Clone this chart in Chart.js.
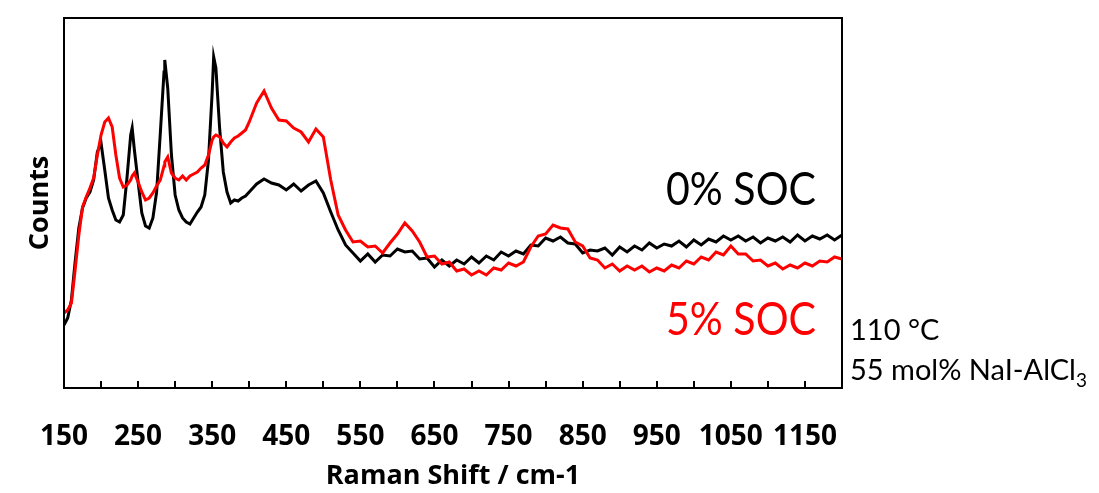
<!DOCTYPE html>
<html>
<head>
<meta charset="utf-8">
<script src="https://cdn.jsdelivr.net/npm/chart.js@4"></script>
<style>
  html, body { margin: 0; padding: 0; background: #fff; }
  #wrap { width: 1099px; height: 493px; position: relative; }
</style>
</head>
<body>
<div id="wrap"><canvas id="ramanChart"></canvas></div>
<script>
// Raman shift (cm-1) sample positions, shared by both spectra
const ramanShift = [150,155,160,165,170,175,180,185,190,195,200,205,210,215,220,225,230,235,240,242,245,250,255,260,265,270,275,280,285,286,290,295,300,305,310,315,320,325,330,335,340,345,350,352,355,360,365,370,375,380,385,390,395,400,
  410,420,430,440,450,460,470,480,490,500,510,520,530,540,550,560,570,580,590,600,610,620,630,640,650,660,670,680,690,700,
  710,720,730,740,750,760,770,780,790,800,810,820,830,840,850,860,870,880,890,900,910,920,930,940,950,960,970,980,990,1000,
  1010,1020,1030,1040,1050,1060,1070,1080,1090,1100,1110,1120,1130,1140,1150,1160,1170,1180,1190,1200];

// 0% SOC (black)
const counts0 = [63,70,88,126,160,180,190,196,208,236,245,218,190,178,168,166,173,210,253,260,238,206,175,162,160,170,196,255,316,328,300,233,193,178,170,166,164,170,176,181,193,228,296,331,320,260,216,196,185,188,187,190,192,196,
  204,209,205,203,198,204,197,203,207,195,176,158,143,135,127,134,126,133,132,139,136,137,129,130,121,128,122,128,124,131,
  125,132,128,136,132,137,134,143,142,150,147,151,145,144,135,138,137,140,133,141,136,142,138,145,140,144,142,147,141,148,
  143,149,146,152,148,152,147,151,145,150,147,151,146,153,147,152,149,153,148,153];

// 5% SOC (red)
const counts5 = [75,78,85,118,153,181,191,200,210,233,253,266,270,261,233,210,201,203,208,212,215,206,196,188,190,195,202,208,222,226,231,215,210,208,212,208,212,214,216,220,223,233,248,251,253,251,245,241,246,250,252,255,258,266,
  285,297,280,268,267,260,256,246,259,251,208,173,158,146,147,141,142,135,145,154,165,157,146,131,132,124,126,117,119,113,
  117,113,120,118,125,122,126,141,152,154,163,160,159,146,142,130,128,120,124,117,122,118,122,116,120,117,123,120,127,124,
  131,128,136,133,142,134,134,127,128,122,125,119,123,120,125,122,127,126,131,129];

const xTickLabels = [150,250,350,450,550,650,750,850,950,1050,1150];
const tickMarks = [200,250,300,350,400,450,500,550,600,650,700,750,800,850,900,950,1000,1050,1100,1150];

const toPoints = arr => ramanShift.map((x, i) => ({ x: x, y: arr[i] }));

const frameAndTicks = {
  id: 'frameAndTicks',
  afterDatasetsDraw(chart) {
    const { ctx, chartArea: a, scales: { x } } = chart;
    ctx.save();
    ctx.strokeStyle = '#000';
    ctx.lineWidth = 2;
    ctx.strokeRect(a.left, a.top, a.right - a.left, a.bottom - a.top);
    ctx.beginPath();
    tickMarks.forEach(v => {
      const px = Math.round(x.getPixelForValue(v));
      ctx.moveTo(px, a.bottom);
      ctx.lineTo(px, a.bottom - 7);
    });
    ctx.stroke();
    ctx.restore();
  }
};

const notes = {
  id: 'notes',
  afterDraw(chart) {
    const ctx = chart.ctx;
    ctx.save();
    ctx.textBaseline = 'alphabetic';
    ctx.font = '46px Lato';
    ctx.textAlign = 'right';
    ctx.fillStyle = '#000';
    ctx.fillText('0% SOC', 816, 205, 150);
    ctx.fillStyle = '#ff0000';
    ctx.fillText('5% SOC', 816, 335, 150);
    ctx.textAlign = 'left';
    ctx.fillStyle = '#000';
    ctx.font = '29px Lato';
    ctx.fillText('110 °C', 850, 340);
    const main = '55 mol% NaI-AlCl';
    ctx.fillText(main, 850, 380);
    const w = ctx.measureText(main).width;
    ctx.font = '19px Lato';
    ctx.fillText('3', 850 + w, 387);
    ctx.restore();
  }
};

new Chart(document.getElementById('ramanChart'), {
  type: 'line',
  data: {
    datasets: [
      { label: '5% SOC', data: toPoints(counts5), borderColor: '#ff0000', borderWidth: 3, pointRadius: 0, tension: 0, fill: false },
      { label: '0% SOC', data: toPoints(counts0), borderColor: '#000000', borderWidth: 3, pointRadius: 0, tension: 0, fill: false }
    ]
  },
  options: {
    responsive: true,
    maintainAspectRatio: false,
    animation: false,
    layout: { padding: { top: 18, right: 257, left: 0, bottom: 0 } },
    plugins: { legend: { display: false }, tooltip: { enabled: false } },
    scales: {
      x: {
        type: 'linear',
        min: 150,
        max: 1200,
        afterBuildTicks: s => { s.ticks = xTickLabels.map(v => ({ value: v })); },
        afterFit: s => { s.height = 105; },
        grid: { display: false, drawTicks: false },
        border: { display: false },
        ticks: {
          autoSkip: false,
          maxRotation: 0,
          padding: 32,
          color: '#000',
          font: { family: 'Open Sans', size: 28, weight: 'bold' },
          callback: v => String(v)
        },
        title: {
          display: true,
          text: 'Raman Shift / cm-1',
          color: '#000',
          font: { family: 'Open Sans', size: 27, weight: 'bold' },
          padding: { top: 0, bottom: 0 }
        }
      },
      y: {
        min: 0,
        max: 370,
        afterFit: s => { s.width = 64; },
        grid: { display: false, drawTicks: false },
        border: { display: false },
        ticks: { display: false },
        title: {
          display: true,
          text: 'Counts',
          color: '#000',
          font: { family: 'Open Sans', size: 27, weight: 'bold' },
          padding: { top: 24, bottom: 0 }
        }
      }
    }
  },
  plugins: [frameAndTicks, notes]
});
</script>
</body>
</html>
